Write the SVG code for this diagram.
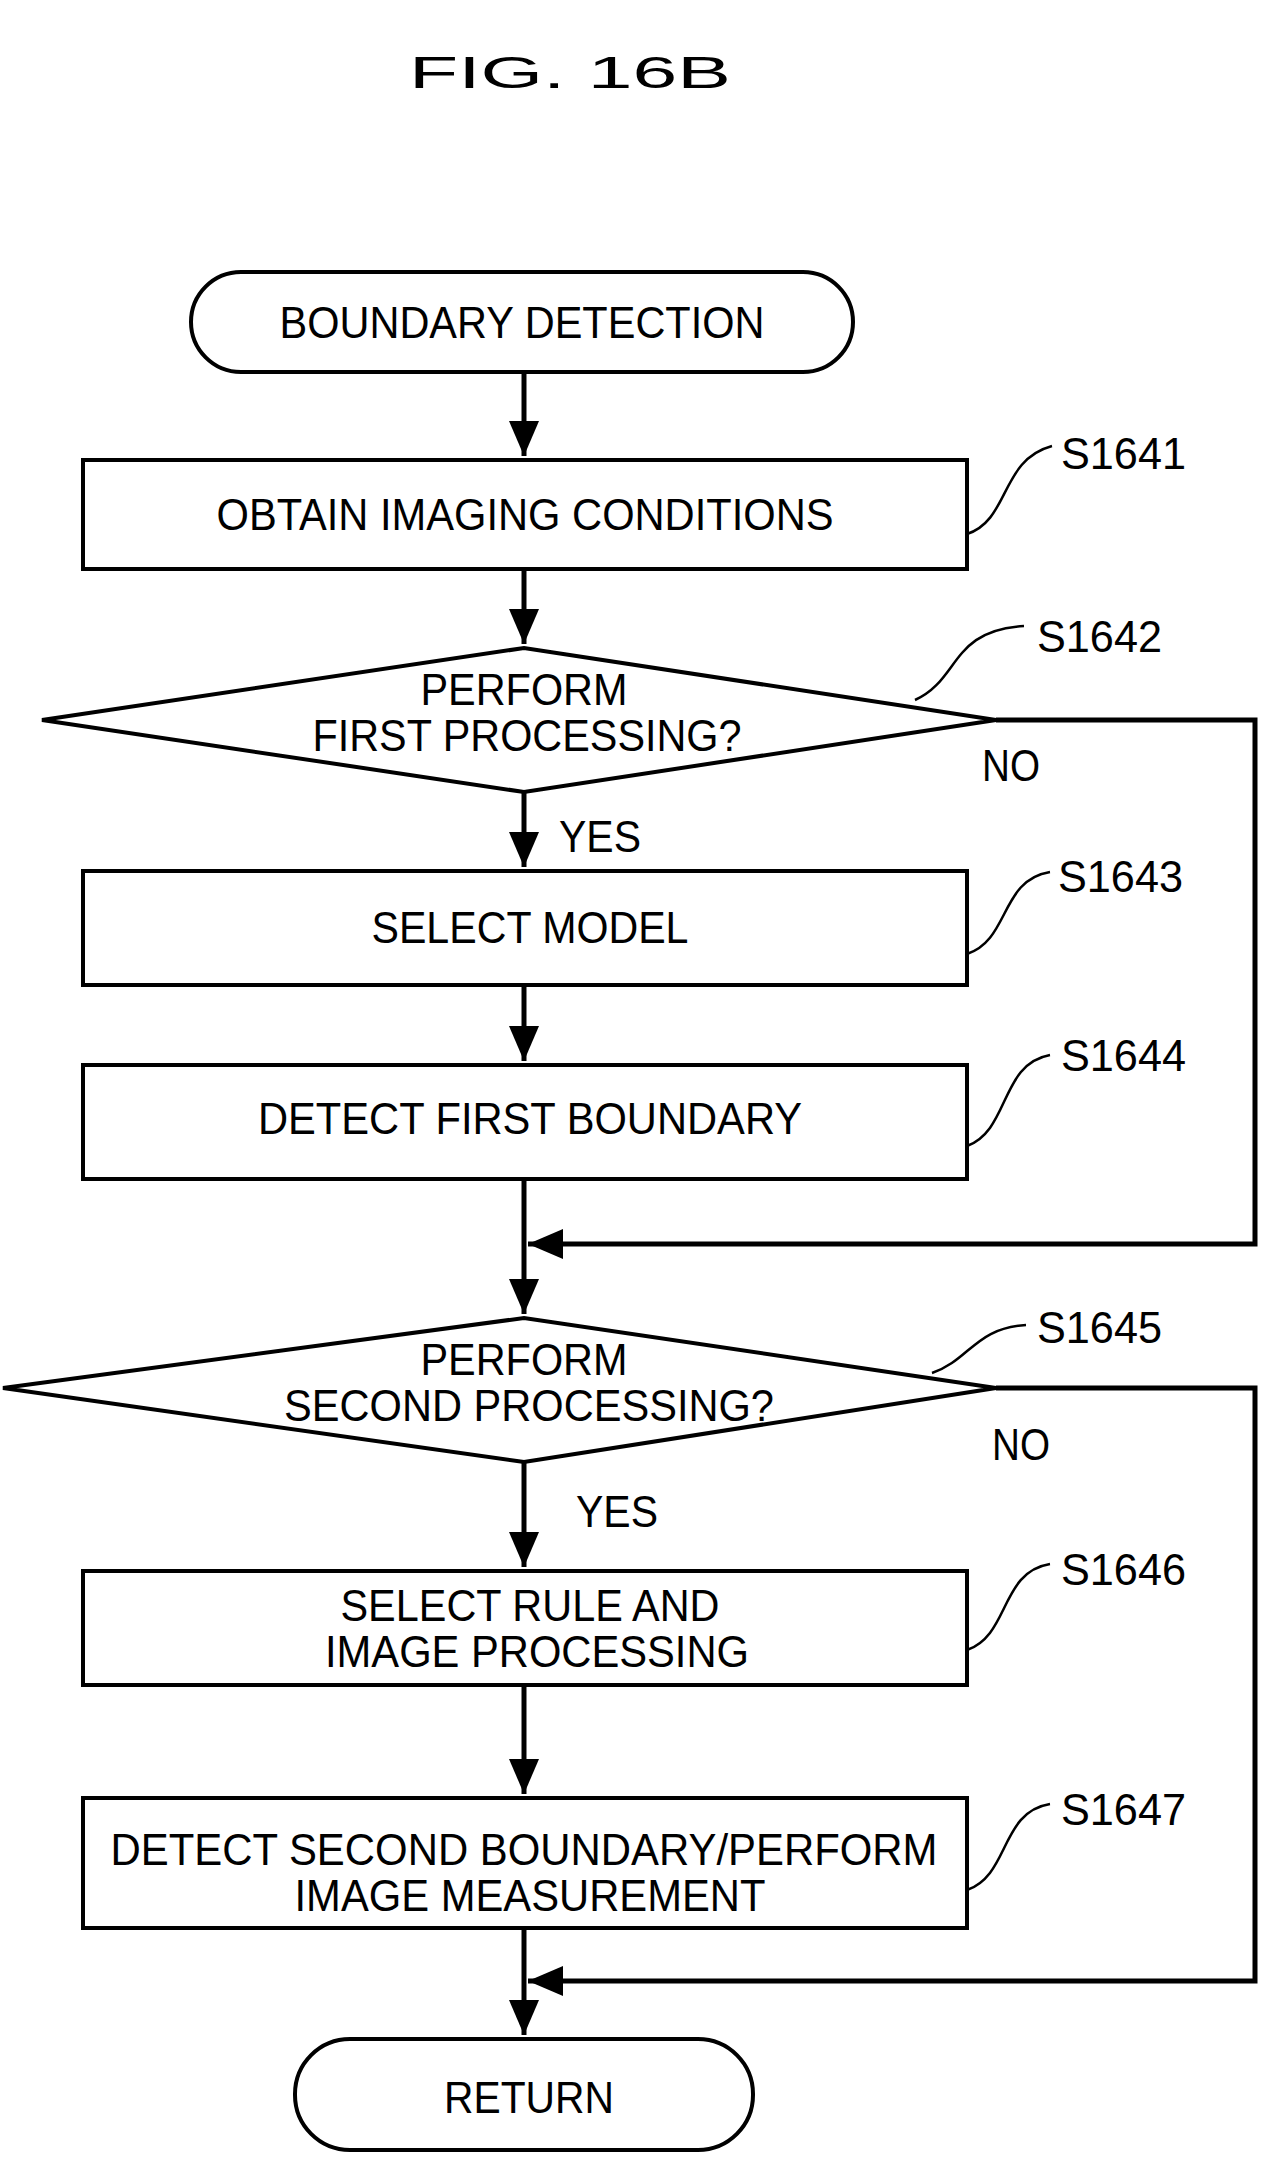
<svg xmlns="http://www.w3.org/2000/svg" width="1276" height="2170" viewBox="0 0 1276 2170">
<style>
text{font-family:"Liberation Sans",Arial,sans-serif;font-size:45px;fill:#000;text-anchor:middle}
.lbl{text-anchor:start}
.s{fill:#fff;stroke:#000;stroke-width:4}
.c{fill:none;stroke:#000;stroke-width:5}
.l{fill:none;stroke:#000;stroke-width:2.5}
</style>
<defs><marker id="a" markerWidth="8" markerHeight="8" refX="7" refY="4" orient="auto" markerUnits="strokeWidth" viewBox="0 0 8 8"><path d="M0,1 L7,4 L0,7 z" fill="#000"/></marker></defs>
<rect width="1276" height="2170" fill="#fff"/>
<text x="570" y="88" font-size="70" textLength="322" lengthAdjust="spacingAndGlyphs">FIG. 16B</text>
<g id="connectors">
<path class="c" d="M524 372 V456" marker-end="url(#a)"/>
<path class="c" d="M524 569 V644" marker-end="url(#a)"/>
<path class="c" d="M524 792 V867" marker-end="url(#a)"/>
<path class="c" d="M524 985 V1061" marker-end="url(#a)"/>
<path class="c" d="M524 1179 V1314" marker-end="url(#a)"/>
<path class="c" d="M996 720 H1255 V1244 H528" marker-end="url(#a)"/>
<path class="c" d="M524 1462 V1567" marker-end="url(#a)"/>
<path class="c" d="M524 1685 V1794" marker-end="url(#a)"/>
<path class="c" d="M524 1928 V2035" marker-end="url(#a)"/>
<path class="c" d="M996 1388 H1255 V1981 H528" marker-end="url(#a)"/>
<text class="lbl" x="982" y="781" textLength="58" lengthAdjust="spacingAndGlyphs">NO</text>
<text class="lbl" x="559" y="852" textLength="82" lengthAdjust="spacingAndGlyphs">YES</text>
<text class="lbl" x="992" y="1460" textLength="58" lengthAdjust="spacingAndGlyphs">NO</text>
<text class="lbl" x="576" y="1527" textLength="82" lengthAdjust="spacingAndGlyphs">YES</text>
</g>
<g id="start"><rect class="s" x="191" y="272" width="662" height="100" rx="50"/><text x="522" y="338" textLength="485" lengthAdjust="spacingAndGlyphs">BOUNDARY DETECTION</text></g>
<g id="s1641"><rect class="s" x="83" y="460" width="884" height="109"/><text x="525" y="530" textLength="617" lengthAdjust="spacingAndGlyphs">OBTAIN IMAGING CONDITIONS</text>
<path class="l" d="M967 534 C1010 520 1000 460 1052 446"/><text class="lbl" x="1061" y="469" textLength="125" lengthAdjust="spacingAndGlyphs">S1641</text></g>
<g id="s1642"><polygon class="s" points="42,720 524,648 996,720 524,792"/><text x="524" y="705" textLength="207" lengthAdjust="spacingAndGlyphs">PERFORM</text><text x="527" y="751" textLength="429" lengthAdjust="spacingAndGlyphs">FIRST PROCESSING?</text>
<path class="l" d="M915 700 C960 680 950 630 1024 626"/><text class="lbl" x="1037" y="652" textLength="125" lengthAdjust="spacingAndGlyphs">S1642</text></g>
<g id="s1643"><rect class="s" x="83" y="871" width="884" height="114"/><text x="530" y="943" textLength="317" lengthAdjust="spacingAndGlyphs">SELECT MODEL</text>
<path class="l" d="M967 954 C1010 940 1000 880 1050 872"/><text class="lbl" x="1058" y="892" textLength="125" lengthAdjust="spacingAndGlyphs">S1643</text></g>
<g id="s1644"><rect class="s" x="83" y="1065" width="884" height="114"/><text x="530" y="1134" textLength="544" lengthAdjust="spacingAndGlyphs">DETECT FIRST BOUNDARY</text>
<path class="l" d="M967 1146 C1010 1130 1000 1064 1050 1055"/><text class="lbl" x="1061" y="1071" textLength="125" lengthAdjust="spacingAndGlyphs">S1644</text></g>
<g id="s1645"><polygon class="s" points="3,1388 524,1318 996,1388 524,1462"/><text x="524" y="1375" textLength="207" lengthAdjust="spacingAndGlyphs">PERFORM</text><text x="529" y="1421" textLength="490" lengthAdjust="spacingAndGlyphs">SECOND PROCESSING?</text>
<path class="l" d="M932 1373 C970 1360 975 1328 1026 1325"/><text class="lbl" x="1037" y="1343" textLength="125" lengthAdjust="spacingAndGlyphs">S1645</text></g>
<g id="s1646"><rect class="s" x="83" y="1571" width="884" height="114"/><text x="530" y="1621" textLength="379" lengthAdjust="spacingAndGlyphs">SELECT RULE AND</text><text x="537" y="1667" textLength="424" lengthAdjust="spacingAndGlyphs">IMAGE PROCESSING</text>
<path class="l" d="M967 1650 C1010 1635 1000 1572 1050 1564"/><text class="lbl" x="1061" y="1585" textLength="125" lengthAdjust="spacingAndGlyphs">S1646</text></g>
<g id="s1647"><rect class="s" x="83" y="1798" width="884" height="130"/><text x="524" y="1865" textLength="827" lengthAdjust="spacingAndGlyphs">DETECT SECOND BOUNDARY/PERFORM</text><text x="530" y="1911" textLength="471" lengthAdjust="spacingAndGlyphs">IMAGE MEASUREMENT</text>
<path class="l" d="M967 1890 C1010 1875 1000 1812 1050 1804"/><text class="lbl" x="1061" y="1825" textLength="125" lengthAdjust="spacingAndGlyphs">S1647</text></g>
<g id="return"><rect class="s" x="295" y="2039" width="458" height="111" rx="55"/><text x="529" y="2113" textLength="170" lengthAdjust="spacingAndGlyphs">RETURN</text></g>
</svg>
